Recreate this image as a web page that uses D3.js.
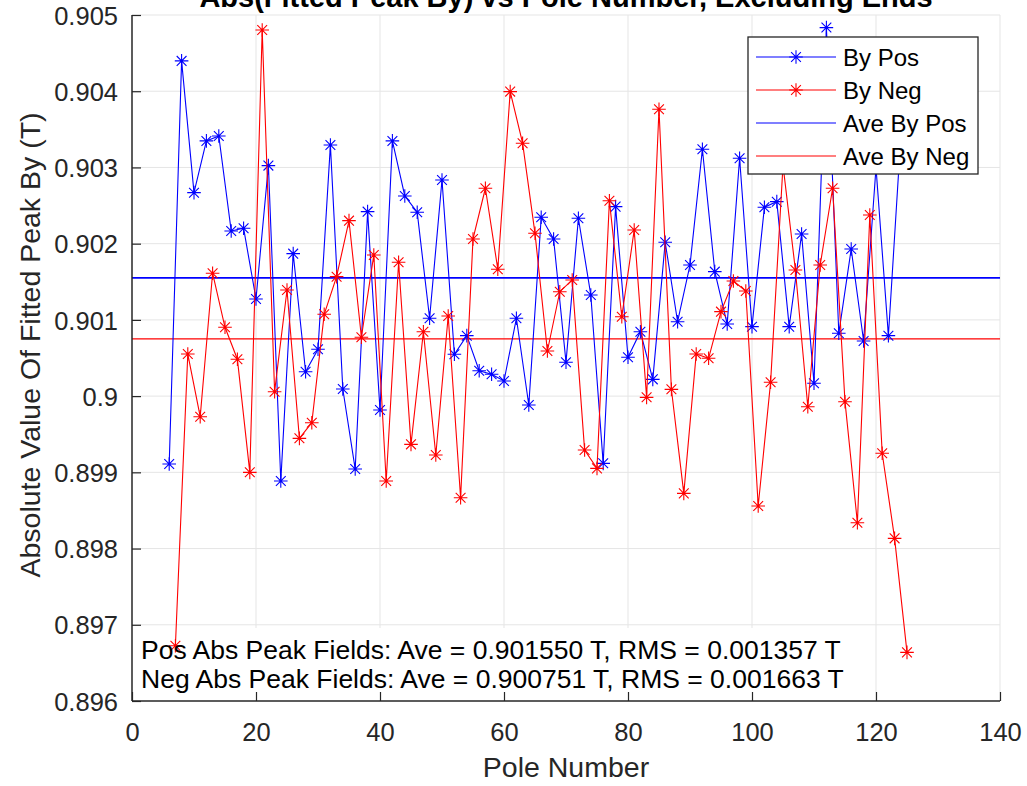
<!DOCTYPE html>
<html>
<head>
<meta charset="utf-8">
<script src="https://cdn.jsdelivr.net/npm/d3@7"></script>
<style>
  html, body { margin: 0; padding: 0; background: #fff; }
  svg { display: block; font-family: "Liberation Sans", Arial, Helvetica, sans-serif; }
</style>
</head>
<body>
<svg id="chart" width="1027" height="786"></svg>
<script>
// ---------------- data ----------------
const posPoles = [6,8,10,12,14,16,18,20,22,24,26,28,30,32,34,36,38,40,42,44,46,48,50,52,54,56,58,60,
  62,64,66,68,70,72,74,76,78,80,82,84,86,88,90,92,94,96,98,100,102,104,106,108,110,112,114,116,118,120,122,124];
const posValues = [0.899109,0.904398,0.902669,0.903348,0.903413,0.902167,0.902202,0.901274,0.903024,0.898886,
  0.901869,0.900320,0.900614,0.903295,0.900093,0.899043,0.902420,0.899817,0.903348,0.902626,
  0.902412,0.901021,0.902836,0.900549,0.900793,0.900333,0.900286,0.900198,0.901021,0.899883,
  0.902346,0.902062,0.900444,0.902333,0.901327,0.899118,0.902486,0.900509,0.900845,0.900220,
  0.902018,0.900976,0.901720,0.903239,0.901633,0.900946,0.903120,0.900911,0.902478,0.902551,
  0.900911,0.902127,0.900168,0.904835,0.900824,0.901930,0.900723,0.903000,0.900793,0.903400];
const negPoles = [7,9,11,13,15,17,19,21,23,25,27,29,31,33,35,37,39,41,43,45,47,49,51,53,55,57,59,61,63,65,
  67,69,71,73,75,77,79,81,83,85,87,89,91,93,95,97,99,101,103,105,107,109,111,113,115,117,119,121,123,125];
const negValues = [0.896724,0.900552,0.899730,0.901612,0.900903,0.900484,0.899000,0.904804,0.900058,0.901392,
  0.899446,0.899651,0.901073,0.901567,0.902302,0.900772,0.901852,0.898886,0.901756,0.899367,
  0.900845,0.899227,0.901051,0.898667,0.902062,0.902727,0.901664,0.903995,0.903318,0.902136,
  0.900592,0.901370,0.901524,0.899293,0.899052,0.902564,0.901042,0.902180,0.899984,0.903764,
  0.900089,0.898724,0.900552,0.900496,0.901108,0.901510,0.901379,0.898558,0.900181,0.903030,
  0.901655,0.899861,0.901720,0.902727,0.899927,0.898339,0.902377,0.899250,0.898134,0.896638];
const aveLevels = [0.901550, 0.900751];
const seriesNames = ["By Pos", "By Neg", "Ave By Pos", "Ave By Neg"];
const xTicks = [0,20,40,60,80,100,120,140];
const yTicks = [0.896,0.897,0.898,0.899,0.900,0.901,0.902,0.903,0.904,0.905];
const yTickLabels = ["0.896","0.897","0.898","0.899","0.9","0.901","0.902","0.903","0.904","0.905"];
const titleText = "Abs(Fitted Peak By) vs Pole Number, Excluding Ends";
const xLabel = "Pole Number";
const yLabel = "Absolute Value Of Fitted Peak By (T)";
const noteLines = ["Pos Abs Peak Fields: Ave = 0.901550 T, RMS = 0.001357 T",
                   "Neg Abs Peak Fields: Ave = 0.900751 T, RMS = 0.001663 T"];

// ---------------- layout ----------------
const L = 132, R = 1000, T = 15, B = 701;
const axisColor = "#262626", gridColor = "#e5e5e5";
const blue = "#0000ff", red = "#ff0000";

const svg = d3.select("#chart");
const x = d3.scaleLinear().domain([0, 140]).range([L, R]);
const y = d3.scaleLinear().domain([0.896, 0.905]).range([B, T]);

// grid
const grid = svg.append("g");
grid.selectAll("line.gx").data(xTicks.slice(1)).join("line")
  .attr("x1", d => x(d)).attr("x2", d => x(d)).attr("y1", T).attr("y2", B)
  .attr("stroke", gridColor).attr("stroke-width", 1);
grid.selectAll("line.gy").data(yTicks.slice(1)).join("line")
  .attr("x1", L).attr("x2", R).attr("y1", d => y(d)).attr("y2", d => y(d))
  .attr("stroke", gridColor).attr("stroke-width", 1);

// white background for annotation text
svg.append("rect").attr("x", L + 1).attr("y", 628).attr("width", 728).attr("height", B - 628 - 1)
  .attr("fill", "#fff");

// average lines
svg.append("line").attr("x1", L).attr("x2", R)
  .attr("y1", y(aveLevels[0])).attr("y2", y(aveLevels[0]))
  .attr("stroke", blue).attr("stroke-width", 1.8);
svg.append("line").attr("x1", L).attr("x2", R)
  .attr("y1", y(aveLevels[1])).attr("y2", y(aveLevels[1]))
  .attr("stroke", red).attr("stroke-width", 1.3);

// asterisk marker path
function asterisk(r) {
  const d = r * 0.72;
  return `M${-r},0H${r}M0,${-r}V${r}M${-d},${-d}L${d},${d}M${-d},${d}L${d},${-d}`;
}

function drawSeries(poles, vals, color) {
  const pts = poles.map((p, i) => [p, vals[i]]);
  const line = d3.line().x(d => x(d[0])).y(d => y(d[1]));
  svg.append("path").attr("d", line(pts)).attr("fill", "none")
    .attr("stroke", color).attr("stroke-width", 1.1);
  svg.append("g").selectAll("path").data(pts).join("path")
    .attr("transform", d => `translate(${x(d[0])},${y(d[1])})`)
    .attr("d", asterisk(6.8)).attr("fill", "none")
    .attr("stroke", color).attr("stroke-width", 1.1);
}
drawSeries(posPoles, posValues, blue);
drawSeries(negPoles, negValues, red);

// axes (left & bottom only)
const xAxis = d3.axisBottom(x).tickValues(xTicks).tickSizeInner(-9).tickSizeOuter(0).tickPadding(22)
  .tickFormat(d3.format("d"));
const gx = svg.append("g").attr("transform", `translate(0,${B})`).call(xAxis);
const yAxis = d3.axisLeft(y).tickValues(yTicks).tickSizeInner(-9).tickSizeOuter(0).tickPadding(23)
  .tickFormat((d, i) => yTickLabels[i]);
const gy = svg.append("g").attr("transform", `translate(${L},0)`).call(yAxis);
[gx, gy].forEach(g => {
  g.select(".domain").attr("stroke", axisColor).attr("stroke-width", 1.5);
  g.selectAll(".tick line").attr("stroke", axisColor).attr("stroke-width", 1.2);
  g.selectAll(".tick text").attr("fill", axisColor)
    .style("font-family", '"Liberation Sans", Arial, sans-serif').style("font-size", "25.5px");
});
gx.selectAll(".tick text").attr("dy", null).attr("y", 40);
gy.selectAll(".tick text").attr("x", 118 - L).attr("dy", "0.36em");
gy.select(".domain").attr("d", `M0,${T}V${B}`);
gx.select(".domain").attr("d", `M${L},0H${R}`);

// axis labels
svg.append("text").attr("x", (L + R) / 2).attr("y", 777).attr("text-anchor", "middle")
  .attr("fill", axisColor).style("font-size", "28.5px").text(xLabel);
svg.append("text").attr("transform", "translate(40,345) rotate(-90)").attr("text-anchor", "middle")
  .attr("fill", axisColor).style("font-size", "28.5px").text(yLabel);

// title
svg.append("text").attr("x", (L + R) / 2).attr("y", 7).attr("text-anchor", "middle")
  .attr("fill", "#000").style("font-size", "29px").style("font-weight", "bold").text(titleText);

// annotation text
svg.append("g").selectAll("text").data(noteLines).join("text")
  .attr("x", 141).attr("y", (d, i) => 659 + i * 28.5)
  .attr("fill", "#000").style("font-size", "26.5px").text(d => d);

// legend
const lg = svg.append("g");
lg.append("rect").attr("x", 748).attr("y", 37).attr("width", 230).attr("height", 137)
  .attr("fill", "#fff").attr("stroke", axisColor).attr("stroke-width", 1.3);
const legendColors = [blue, red, blue, red];
const rows = lg.selectAll("g.row").data(seriesNames).join("g")
  .attr("transform", (d, i) => `translate(0,${57 + i * 33})`);
rows.append("line").attr("x1", 756).attr("x2", 836).attr("y1", 0).attr("y2", 0)
  .attr("stroke", (d, i) => legendColors[i]).attr("stroke-width", 1.1);
rows.filter((d, i) => i < 2).append("path")
  .attr("transform", "translate(796,0)").attr("d", asterisk(6.8)).attr("fill", "none")
  .attr("stroke", (d, i) => legendColors[i]).attr("stroke-width", 1.1);
rows.append("text").attr("x", 843).attr("y", 9).attr("fill", "#000")
  .style("font-size", "24px").text(d => d);
</script>
</body>
</html>
